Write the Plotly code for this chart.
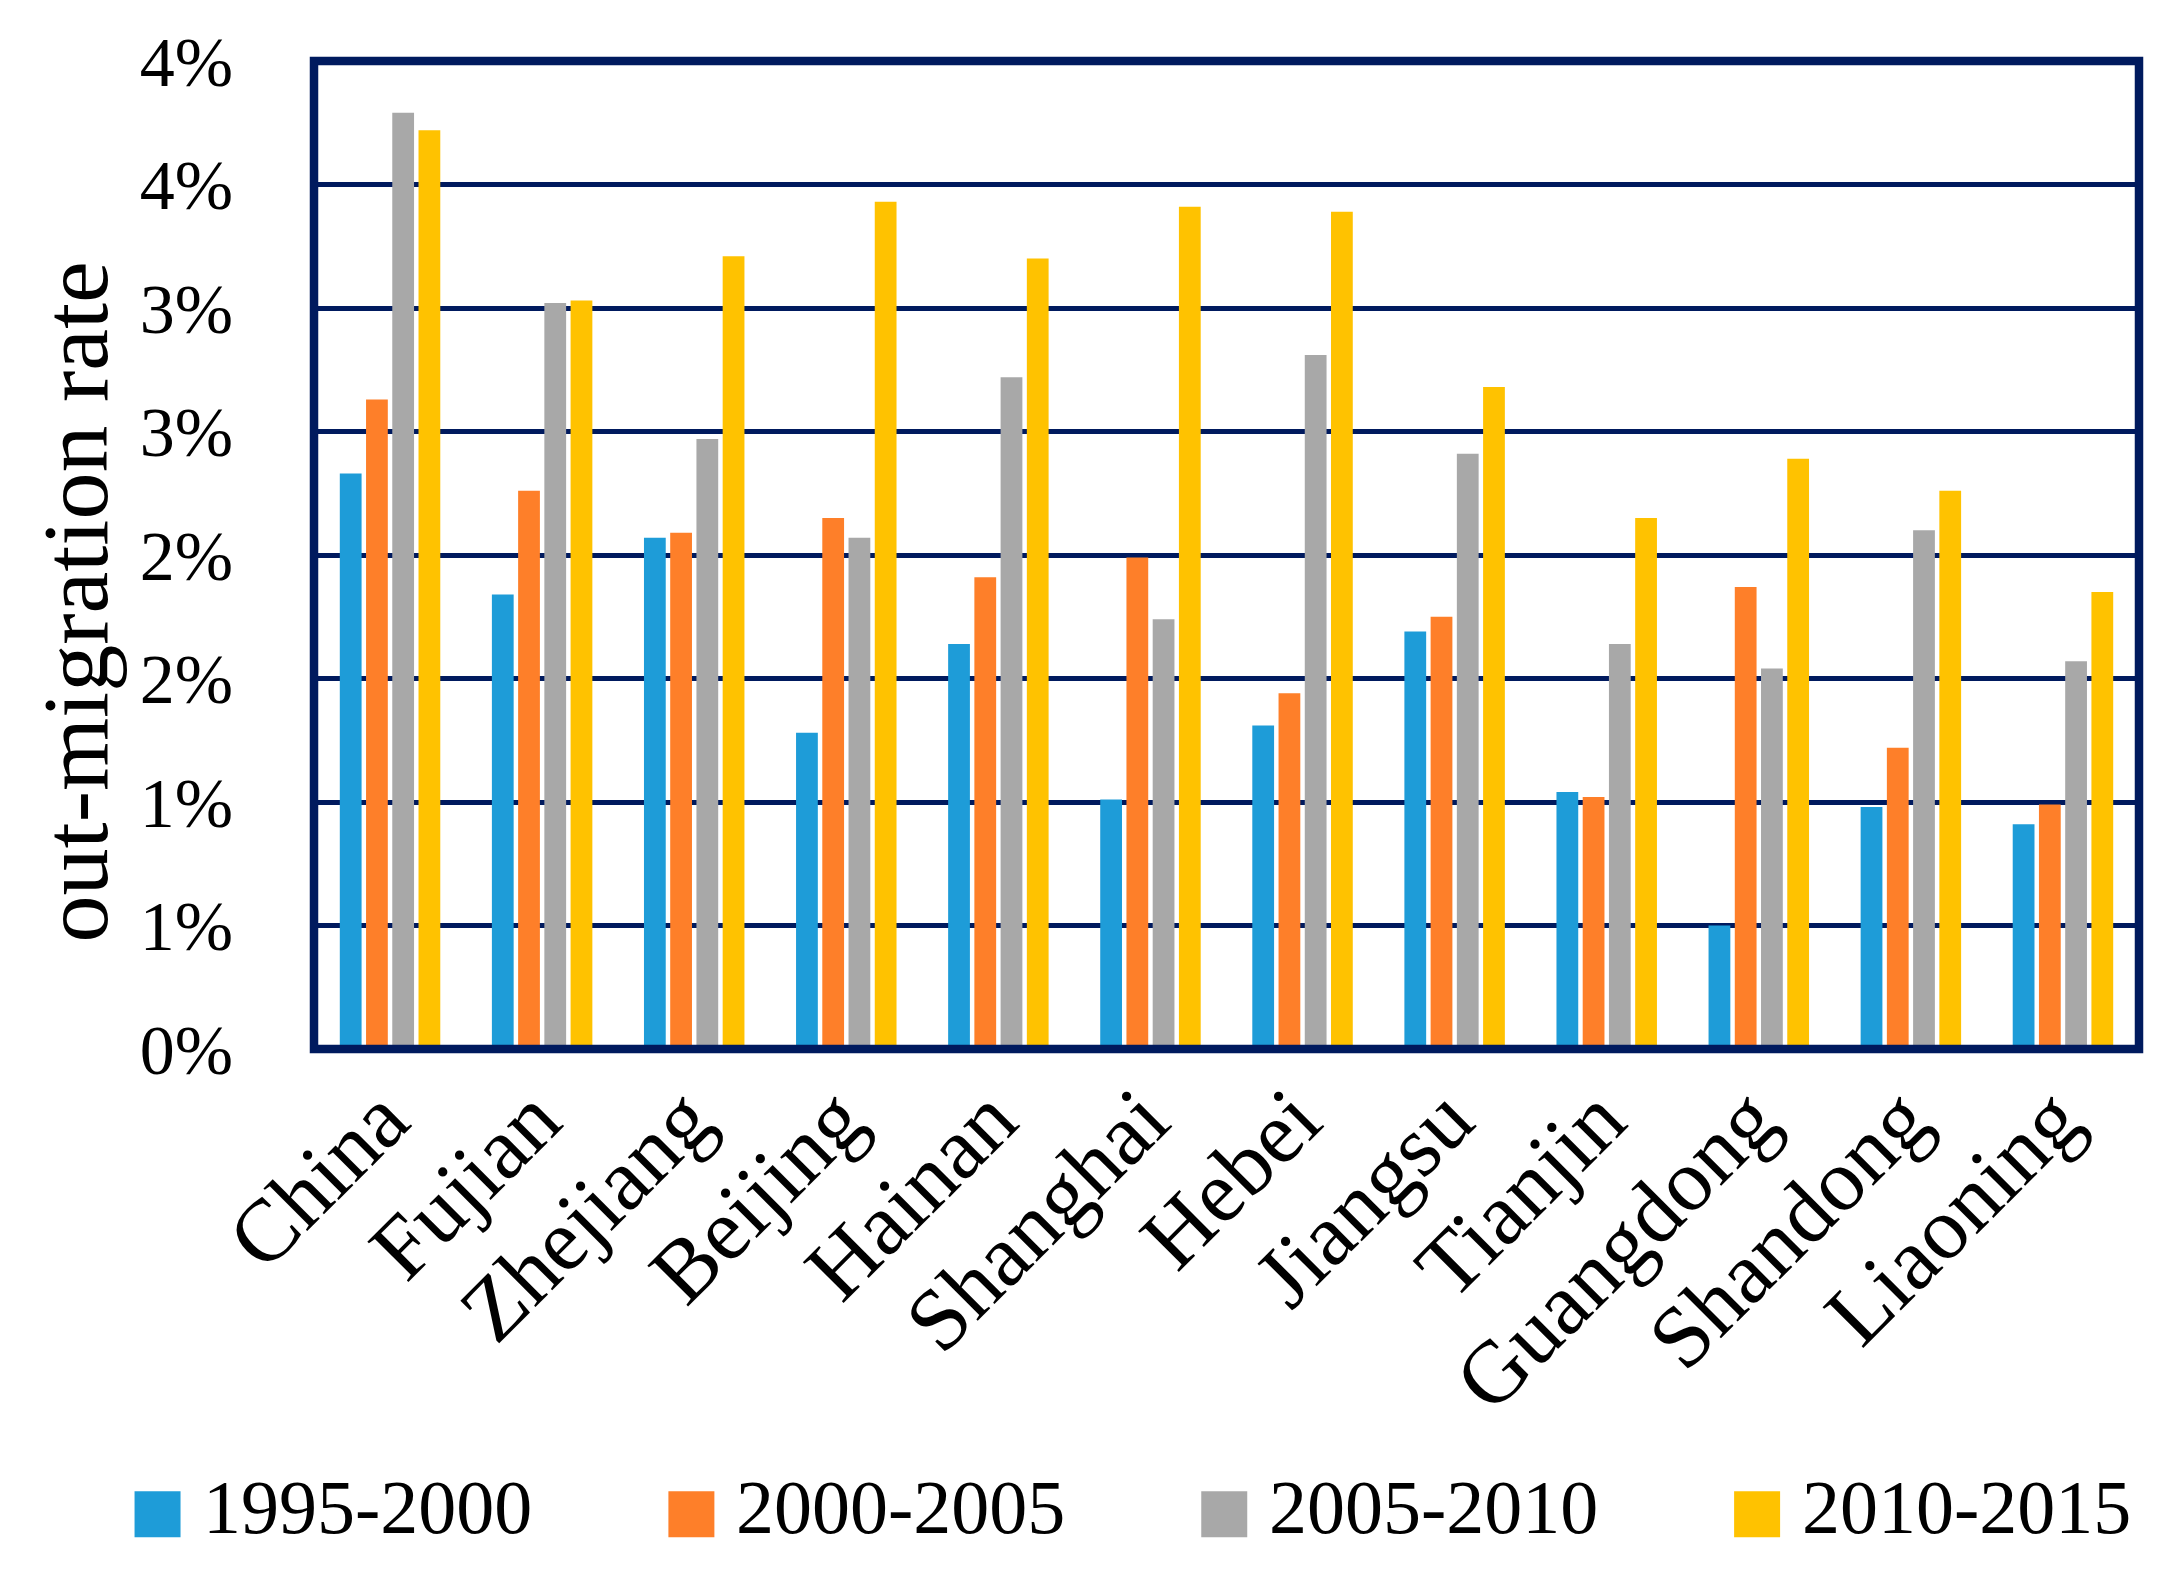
import plotly.graph_objects as go

categories = ["China", "Fujian", "Zhejiang", "Beijing", "Hainan", "Shanghai",
              "Hebei", "Jiangsu", "Tianjin", "Guangdong", "Shandong", "Liaoning"]
series_names = ["1995-2000", "2000-2005", "2005-2010", "2010-2015"]
rate_1995_2000 = [2.33, 1.84, 2.07, 1.28, 1.64, 1.01, 1.31, 1.69, 1.04, 0.50, 0.98, 0.91]
rate_2000_2005 = [2.63, 2.26, 2.09, 2.15, 1.91, 1.99, 1.44, 1.75, 1.02, 1.87, 1.22, 0.99]
rate_2005_2010 = [3.79, 3.02, 2.47, 2.07, 2.72, 1.74, 2.81, 2.41, 1.64, 1.54, 2.10, 1.57]
rate_2010_2015 = [3.72, 3.03, 3.21, 3.43, 3.20, 3.41, 3.39, 2.68, 2.15, 2.39, 2.26, 1.85]
tick_vals = [0, 0.5, 1.0, 1.5, 2.0, 2.5, 3.0, 3.5, 4.0]
tick_labels = ["0%", "1%", "1%", "2%", "2%", "3%", "3%", "4%", "4%"]

colors = ["#1E9CD8", "#FE7F29", "#A8A8A8", "#FFC200"]
navy = "#001A5E"
font_family = "Liberation Serif, serif"

W, H = 2173, 1587
ML, MR, MT, MB = 305.5, 42, 53.3, 546
PW, PH = W - ML - MR, H - MT - MB

fig = go.Figure()
all_series = [rate_1995_2000, rate_2000_2005, rate_2005_2010, rate_2010_2015]
for name, vals, col in zip(series_names, all_series, colors):
    fig.add_trace(go.Bar(x=categories, y=vals, name=name, marker_color=col,
                         marker_line_width=0, showlegend=False))

# plot frame
shapes = [dict(type="rect", xref="paper", yref="paper", x0=0, x1=1, y0=0, y1=1,
               line=dict(color=navy, width=8.5), fillcolor="rgba(0,0,0,0)", layer="above")]
annotations = []

# custom legend (large swatches) built from the series list
legend_x0 = [126, 660, 1193, 1726]
sw = 46
sy0, sy1 = 1483, 1529
for name, col, px in zip(series_names, colors, legend_x0):
    shapes.append(dict(type="rect", xref="paper", yref="paper",
                       x0=(px - ML) / PW, x1=(px + sw - ML) / PW,
                       y0=(H - MB - sy1) / PH, y1=(H - MB - sy0) / PH,
                       fillcolor=col, line_width=0))
    annotations.append(dict(xref="paper", yref="paper",
                            x=(px + sw + 20 - ML) / PW, y=(H - MB - 1499) / PH,
                            xanchor="left", yanchor="middle", showarrow=False,
                            text=name, font=dict(size=76, color="black", family=font_family)))

annotations.append(dict(xref="paper", yref="paper", x=(66 - ML) / PW, y=(H - MB - 594) / PH,
                        xanchor="center", yanchor="middle", textangle=-90, showarrow=False,
                        text="out-migration rate",
                        font=dict(size=94, color="black", family=font_family)))

fig.update_layout(
    width=W, height=H,
    margin=dict(l=ML, r=MR, t=MT, b=MB),
    paper_bgcolor="white", plot_bgcolor="white",
    barmode="group", bargap=0.31, bargroupgap=0.17,
    font=dict(family=font_family, color="black"),
    shapes=shapes, annotations=annotations,
)
fig.update_xaxes(showline=False, showgrid=False, tickangle=-45, ticks="",
                 ticklabelshift=-8,
                 tickfont=dict(size=88, family=font_family, color="black"))
fig.update_yaxes(range=[0, 4], tickvals=tick_vals, ticktext=tick_labels,
                 showline=False,
                 showgrid=True, gridcolor=navy, gridwidth=5, zeroline=False,
                 ticks="", ticklabelstandoff=80,
                 tickfont=dict(size=70, family=font_family, color="black"))

fig.write_html("out.html")
